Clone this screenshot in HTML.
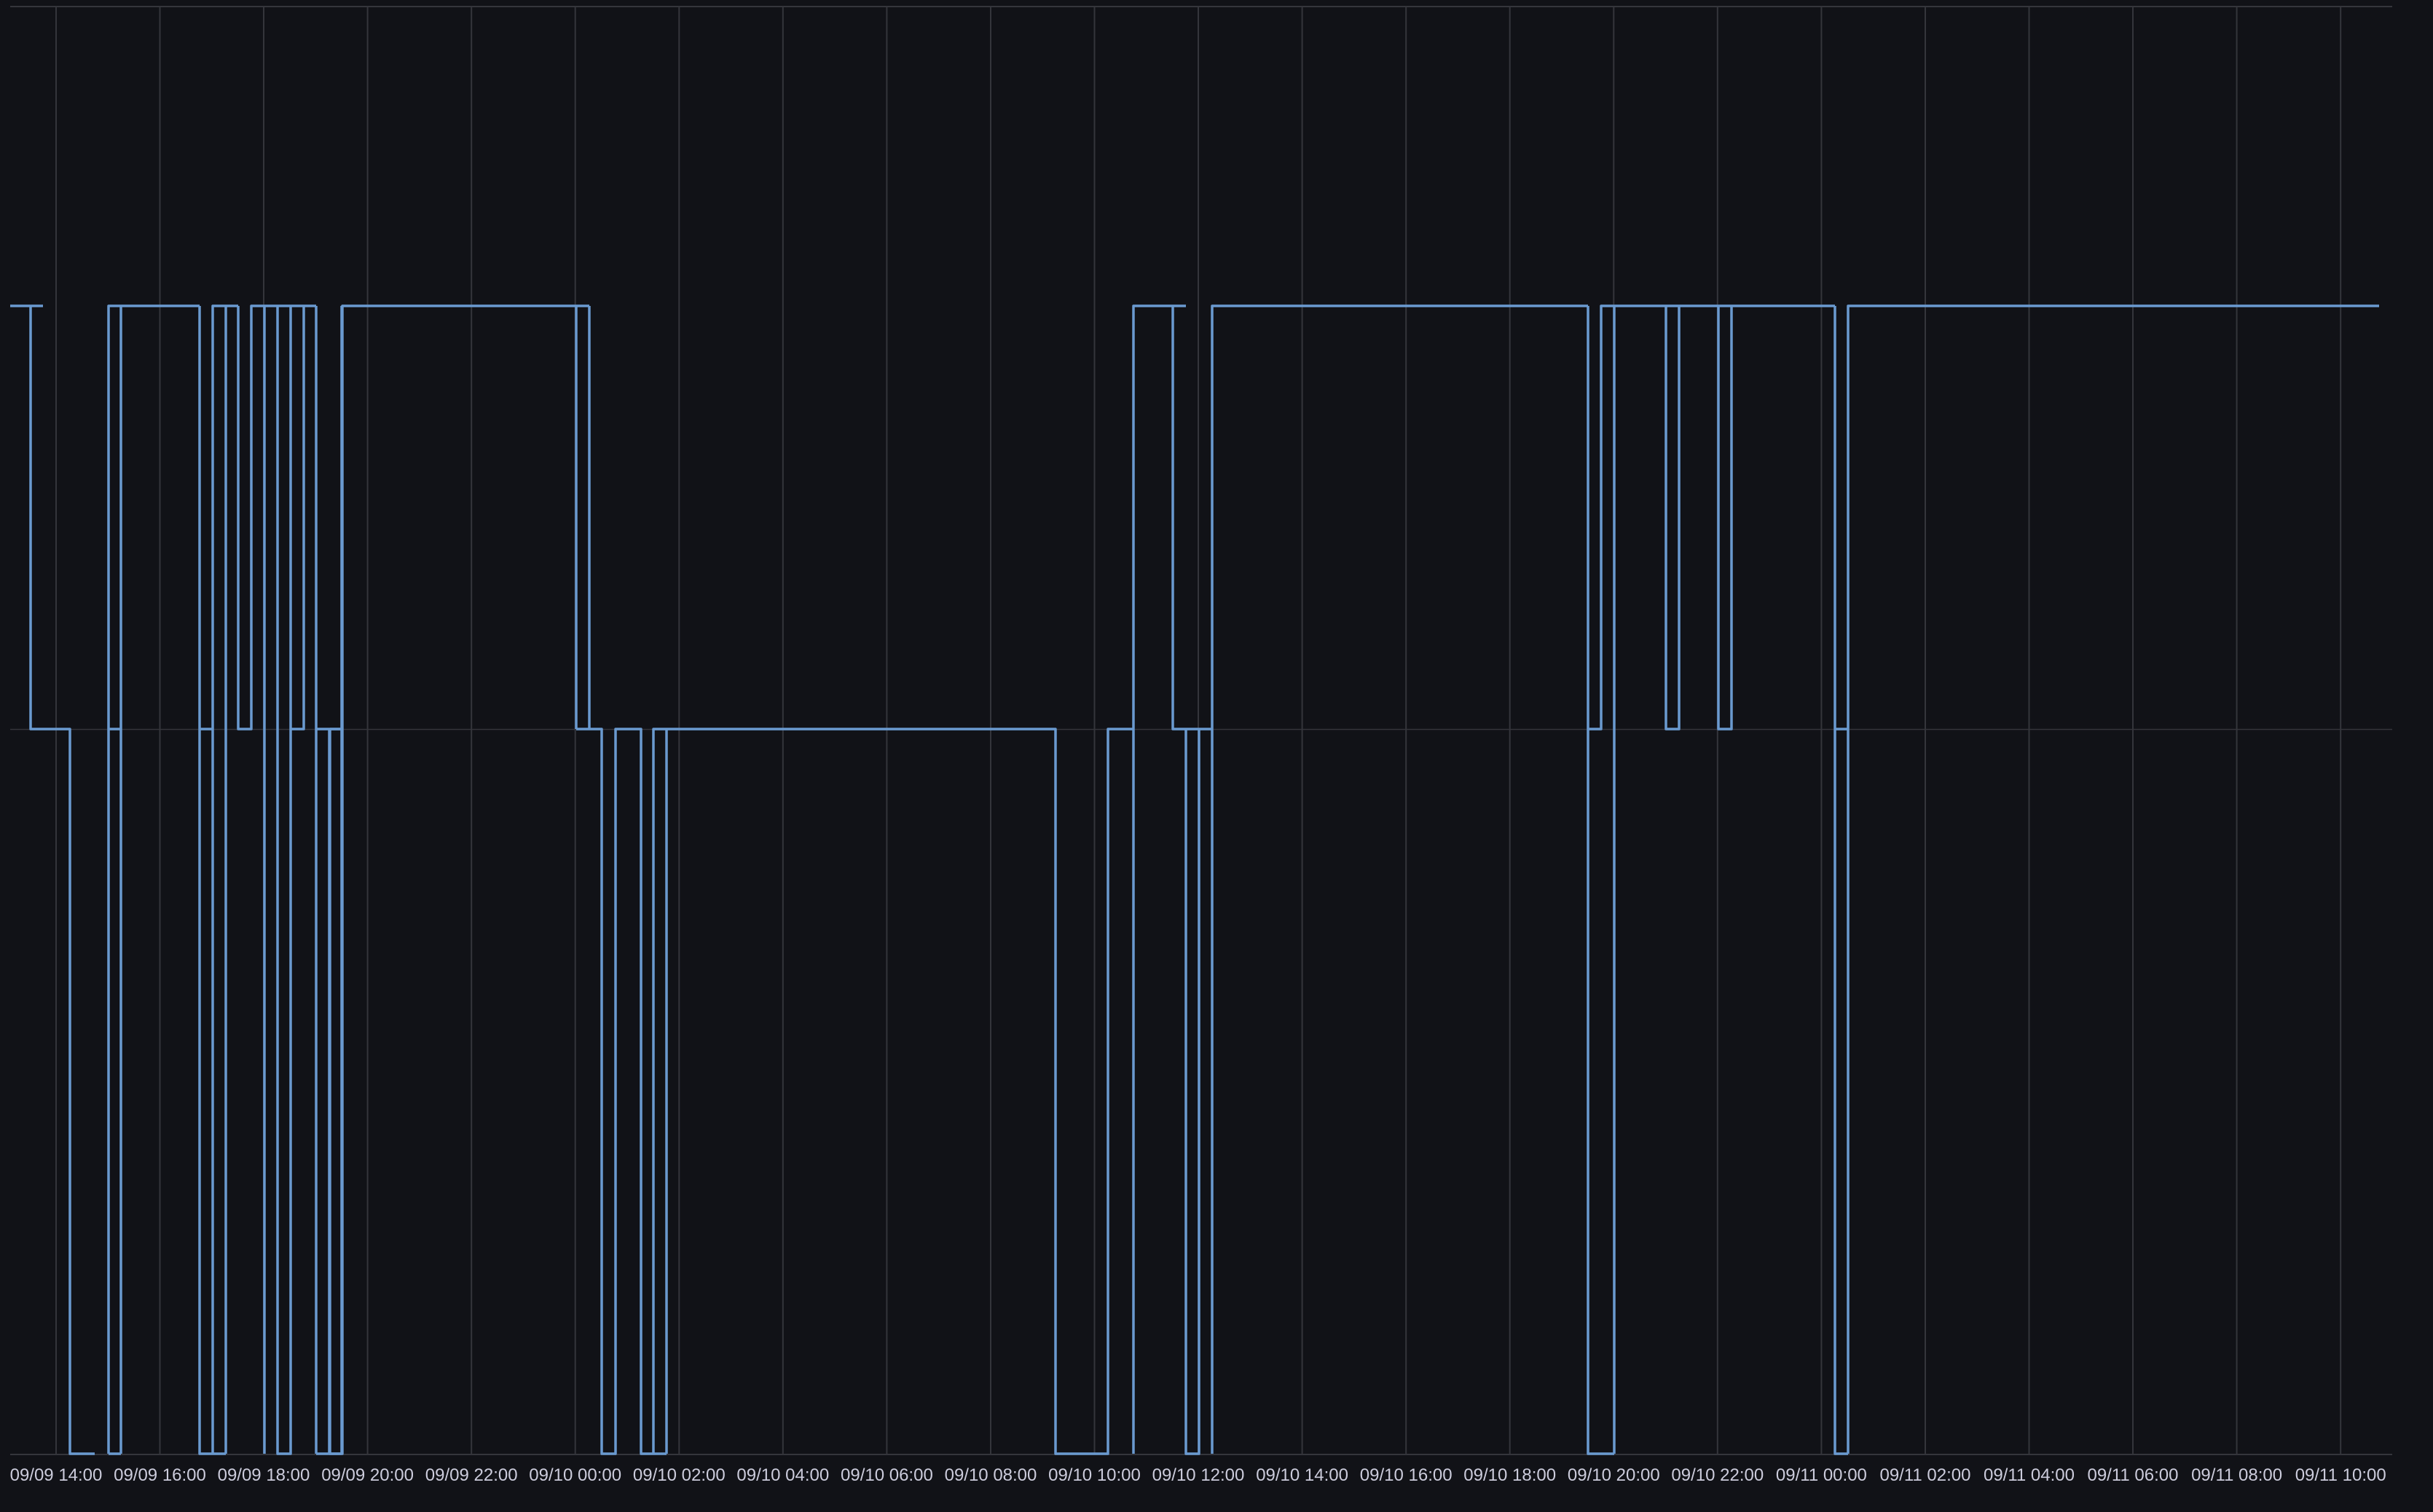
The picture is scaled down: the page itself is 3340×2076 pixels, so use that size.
<!DOCTYPE html>
<html><head><meta charset="utf-8"><style>
html,body{margin:0;padding:0;background:#111217;}
svg{display:block;}
</style></head><body>
<svg width="3340" height="2076" viewBox="0 0 3340 2076" xmlns="http://www.w3.org/2000/svg">
<rect width="3340" height="2076" fill="#111217"/>
<g stroke="#34353b" stroke-width="2" fill="none">
<line x1="14" y1="9" x2="3284" y2="9"/>
<line x1="14" y1="1001.5" x2="3284" y2="1001.5" stroke-width="1.5"/>
<line x1="14" y1="1997" x2="3284" y2="1997"/>
<line x1="77" y1="9" x2="77" y2="1997"/>
<line x1="219.5" y1="9" x2="219.5" y2="1997"/>
<line x1="362" y1="9" x2="362" y2="1997"/>
<line x1="504.6" y1="9" x2="504.6" y2="1997"/>
<line x1="647.2" y1="9" x2="647.2" y2="1997"/>
<line x1="789.7" y1="9" x2="789.7" y2="1997"/>
<line x1="932.3" y1="9" x2="932.3" y2="1997"/>
<line x1="1074.8" y1="9" x2="1074.8" y2="1997"/>
<line x1="1217.4" y1="9" x2="1217.4" y2="1997"/>
<line x1="1360" y1="9" x2="1360" y2="1997"/>
<line x1="1502.5" y1="9" x2="1502.5" y2="1997"/>
<line x1="1645" y1="9" x2="1645" y2="1997"/>
<line x1="1787.6" y1="9" x2="1787.6" y2="1997"/>
<line x1="1930.2" y1="9" x2="1930.2" y2="1997"/>
<line x1="2072.7" y1="9" x2="2072.7" y2="1997"/>
<line x1="2215.3" y1="9" x2="2215.3" y2="1997"/>
<line x1="2357.8" y1="9" x2="2357.8" y2="1997"/>
<line x1="2500.4" y1="9" x2="2500.4" y2="1997"/>
<line x1="2643" y1="9" x2="2643" y2="1997"/>
<line x1="2785.5" y1="9" x2="2785.5" y2="1997"/>
<line x1="2928" y1="9" x2="2928" y2="1997"/>
<line x1="3070.6" y1="9" x2="3070.6" y2="1997"/>
<line x1="3213.2" y1="9" x2="3213.2" y2="1997"/>
</g>
<g stroke="#6a9ad0" stroke-width="3.5" fill="none" stroke-linejoin="round">
<path d="M14 420 H59 M42 420 V1001 H96 V1996 H130"/>
<path d="M149 1996 V420 H274 M149 1001 H166 M149 1996 H166 M166 1996 V420"/>
<path d="M274 420 V1996 H310 M274 1001 H292 M292 1996 V420 H327 M310 1996 V420"/>
<path d="M327 420 V1001 H345 V420 H434 M363 420 V1996 M381 420 V1996 H399 V420 M399 1001 H417 V420"/>
<path d="M434 420 V1996 M434 1001 H470 M434 1996 H452 V1001 M452 1996 H470 V420 H809"/>
<path d="M453 1001 V1996 H469 M453 1001 H469 M469 1996 V420"/>
<path d="M791 420 V1001 M809 420 V1001 M791 1001 H826 V1996 H845 V1001 H880 V1996 H915 M897 1996 V1001 H915 M915 1996 V1001 H1449 V1996 H1521 V1001 H1556"/>
<path d="M1556 1996 V420 H1628 M1610 420 V1001 H1664 M1628 1001 V1996 H1646 V1001 M1664 1996 V420 H2180"/>
<path d="M2180 420 V1996 H2216 M2180 1001 H2198 V420 H2519 M2216 1996 V420 M2287 420 V1001 H2305 V420 M2359 420 V1001 H2377 V420 M2519 420 V1996 H2537 M2519 1001 H2537 M2537 1996 V420 H3266"/>
</g>
<g font-family="'Liberation Sans', sans-serif" font-size="24" fill="#ccccdc" text-anchor="middle">
<text x="77" y="2033">09/09 14:00</text>
<text x="219.5" y="2033">09/09 16:00</text>
<text x="362" y="2033">09/09 18:00</text>
<text x="504.6" y="2033">09/09 20:00</text>
<text x="647.2" y="2033">09/09 22:00</text>
<text x="789.7" y="2033">09/10 00:00</text>
<text x="932.3" y="2033">09/10 02:00</text>
<text x="1074.8" y="2033">09/10 04:00</text>
<text x="1217.4" y="2033">09/10 06:00</text>
<text x="1360" y="2033">09/10 08:00</text>
<text x="1502.5" y="2033">09/10 10:00</text>
<text x="1645" y="2033">09/10 12:00</text>
<text x="1787.6" y="2033">09/10 14:00</text>
<text x="1930.2" y="2033">09/10 16:00</text>
<text x="2072.7" y="2033">09/10 18:00</text>
<text x="2215.3" y="2033">09/10 20:00</text>
<text x="2357.8" y="2033">09/10 22:00</text>
<text x="2500.4" y="2033">09/11 00:00</text>
<text x="2643" y="2033">09/11 02:00</text>
<text x="2785.5" y="2033">09/11 04:00</text>
<text x="2928" y="2033">09/11 06:00</text>
<text x="3070.6" y="2033">09/11 08:00</text>
<text x="3213.2" y="2033">09/11 10:00</text>
</g>
</svg>
</body></html>
